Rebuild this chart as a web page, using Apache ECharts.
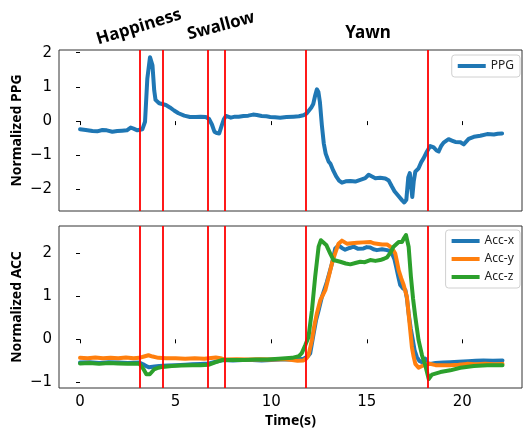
<!DOCTYPE html>
<html>
<head>
<meta charset="utf-8">
<script src="https://cdn.jsdelivr.net/npm/echarts@6/dist/echarts.min.js"></script>
<style>
  html, body { margin: 0; padding: 0; background: #fff; }
  #chart { width: 524px; height: 433px; }
</style>
</head>
<body>
<div id="chart"></div>
<script>
// 数据
var xTicks = [0, 5, 10, 15, 20];
var ppgTicks = [-2, -1, 0, 1, 2];
var accTicks = [-1, 0, 1, 2];
var eventTimes = [3.14, 4.31, 6.68, 7.58, 11.8, 18.18];

var ppgTime = [0.0, 0.3, 0.65, 0.9, 1.17, 1.4, 1.69, 1.95, 2.2, 2.45, 2.65, 2.8, 3.0, 3.26, 3.4, 3.52, 3.66, 3.79, 3.88, 3.95,
  4.14, 4.3, 4.49, 4.7, 4.92, 5.15, 5.45, 5.75, 6.06, 6.3, 6.58, 6.75, 6.9, 7.03, 7.15, 7.28, 7.41, 7.52, 7.63, 7.89,
  8.1, 8.3, 8.55, 8.8, 9.05, 9.25, 9.5, 9.75, 9.95, 10.2, 10.47, 10.8, 11.17, 11.45, 11.69, 11.85, 11.95, 12.1, 12.2, 12.3,
  12.39, 12.47, 12.55, 12.65, 12.75, 12.85, 13.0, 13.1, 13.25, 13.4, 13.55, 13.7, 13.9, 14.14, 14.4, 14.66, 14.92, 15.1, 15.2, 15.45,
  15.7, 15.97, 16.15, 16.3, 16.45, 16.67, 16.85, 16.96, 17.07, 17.17, 17.25, 17.32, 17.38, 17.46, 17.54, 17.71, 17.85, 17.97, 18.15, 18.32,
  18.5, 18.65, 18.76, 18.9, 19.02, 19.28, 19.45, 19.63, 19.9, 20.07, 20.2, 20.33, 20.6, 20.94, 21.3, 21.65, 21.85, 22.08];
var ppgValue = [-0.24, -0.26, -0.29, -0.30, -0.26, -0.27, -0.31, -0.29, -0.28, -0.27, -0.19, -0.22, -0.27, -0.24, -0.02, 1.24, 1.87, 1.63, 0.9, 0.62,
  0.52, 0.50, 0.47, 0.40, 0.31, 0.23, 0.16, 0.12, 0.12, 0.13, 0.12, 0.06, -0.1, -0.31, -0.35, -0.36, -0.13, 0.05, 0.15, 0.10,
  0.13, 0.13, 0.15, 0.16, 0.19, 0.18, 0.15, 0.14, 0.12, 0.11, 0.10, 0.12, 0.13, 0.14, 0.17, 0.22, 0.27, 0.40, 0.50, 0.75,
  0.93, 0.85, 0.55, -0.12, -0.65, -0.95, -1.18, -1.25, -1.45, -1.62, -1.74, -1.80, -1.76, -1.75, -1.77, -1.72, -1.67, -1.57, -1.58, -1.67,
  -1.66, -1.68, -1.74, -1.9, -2.05, -2.2, -2.32, -2.38, -2.3, -1.65, -1.52, -1.9, -2.22, -1.75, -1.48, -1.38, -1.2, -1.09, -0.89, -0.73,
  -0.77, -0.86, -0.89, -0.72, -0.63, -0.53, -0.57, -0.61, -0.62, -0.68, -0.6, -0.52, -0.46, -0.43, -0.38, -0.39, -0.37, -0.36];

var accXTime = [0.0, 0.5, 1.0, 1.5, 2.0, 2.5, 3.1, 3.3, 3.5, 3.61, 3.9, 4.14, 4.6, 5.0, 5.5, 5.88, 6.3, 6.75, 7.1, 7.45,
  8.0, 8.5, 9.0, 9.5, 10.0, 10.5, 11.0, 11.45, 11.69, 11.9, 12.04, 12.22, 12.35, 12.48, 12.65, 12.91, 13.05, 13.18, 13.35, 13.52,
  13.7, 13.87, 14.1, 14.31, 14.55, 14.83, 15.0, 15.18, 15.35, 15.53, 15.8, 16.06, 16.2, 16.32, 16.45, 16.54, 16.65, 16.75, 16.9, 17.02,
  17.1, 17.19, 17.3, 17.41, 17.5, 17.62, 17.75, 17.89, 17.98, 18.06, 18.15, 18.32, 18.6, 19.0, 19.37, 19.8, 20.3, 20.7, 21.1, 21.6, 22.1];
var accX = [-0.54, -0.53, -0.55, -0.53, -0.54, -0.55, -0.54, -0.58, -0.63, -0.65, -0.63, -0.62, -0.61, -0.60, -0.59, -0.58, -0.57, -0.56, -0.52, -0.48,
  -0.49, -0.48, -0.48, -0.49, -0.48, -0.47, -0.47, -0.46, -0.45, -0.40, -0.33, 0.13, 0.45, 0.67, 0.98, 1.33, 1.55, 1.76, 2.11, 2.18,
  2.12, 2.08, 2.12, 2.15, 2.10, 2.11, 2.14, 2.13, 2.09, 2.07, 2.09, 2.07, 2.05, 1.99, 1.85, 1.68, 1.45, 1.26, 1.18, 1.14,
  0.95, 0.6, 0.25, -0.02, -0.25, -0.41, -0.5, -0.53, -0.50, -0.45, -0.55, -0.57, -0.55, -0.54, -0.53, -0.52, -0.51, -0.5, -0.49, -0.5, -0.49];

var accYTime = [0.0, 0.4, 0.8, 1.2, 1.6, 2.0, 2.4, 2.8, 3.1, 3.35, 3.58, 3.8, 4.1, 4.5, 5.0, 5.5, 6.0, 6.5, 7.1, 7.35,
  7.6, 8.2, 8.8, 9.4, 10.0, 10.6, 11.1, 11.38, 11.69, 11.85, 11.95, 12.13, 12.25, 12.39, 12.57, 12.83, 12.95, 13.09, 13.2, 13.35,
  13.52, 13.7, 13.96, 14.2, 14.49, 14.8, 15.18, 15.35, 15.53, 15.8, 16.06, 16.23, 16.38, 16.49, 16.58, 16.67, 16.8, 16.93, 17.1, 17.24,
  17.36, 17.45, 17.54, 17.71, 17.89, 18.1, 18.32, 18.6, 19.0, 19.37, 19.8, 20.24, 20.7, 21.2, 21.7, 22.1];
var accY = [-0.43, -0.44, -0.42, -0.44, -0.43, -0.44, -0.42, -0.44, -0.43, -0.40, -0.37, -0.40, -0.43, -0.44, -0.44, -0.45, -0.44, -0.45, -0.42, -0.44,
  -0.47, -0.46, -0.47, -0.46, -0.47, -0.46, -0.48, -0.50, -0.49, -0.44, -0.37, -0.02, 0.3, 0.6, 0.91, 1.14, 1.35, 1.6, 1.8, 2.0,
  2.22, 2.29, 2.22, 2.23, 2.24, 2.25, 2.26, 2.23, 2.22, 2.2, 2.2, 2.15, 2.07, 1.99, 1.8, 1.6, 1.42, 1.26, 0.98, 0.36,
  -0.18, -0.4, -0.57, -0.66, -0.62, -0.58, -0.57, -0.6, -0.6, -0.6, -0.59, -0.57, -0.58, -0.57, -0.58, -0.57];

var accZTime = [0.0, 0.5, 1.0, 1.5, 2.0, 2.5, 3.1, 3.3, 3.47, 3.65, 3.87, 4.1, 4.31, 4.8, 5.3, 5.88, 6.3, 6.75, 7.1, 7.45,
  8.0, 8.6, 9.2, 9.8, 10.4, 11.1, 11.45, 11.6, 11.78, 11.95, 12.13, 12.3, 12.48, 12.6, 12.69, 12.88, 13.09, 13.26, 13.61, 13.9,
  14.14, 14.4, 14.66, 14.9, 15.18, 15.45, 15.7, 15.9, 16.06, 16.25, 16.4, 16.67, 16.84, 16.95, 17.05, 17.19, 17.31, 17.42, 17.54, 17.71,
  17.89, 18.06, 18.24, 18.41, 18.85, 19.37, 19.9, 20.6, 21.3, 22.1];
var accZ = [-0.56, -0.55, -0.57, -0.55, -0.56, -0.57, -0.56, -0.68, -0.81, -0.81, -0.70, -0.66, -0.64, -0.62, -0.61, -0.60, -0.60, -0.59, -0.53, -0.48,
  -0.48, -0.48, -0.47, -0.47, -0.45, -0.43, -0.39, -0.32, -0.14, 0.05, 0.67, 1.45, 2.15, 2.3, 2.34, 2.19, 1.99, 1.84, 1.80, 1.76,
  1.74, 1.77, 1.80, 1.79, 1.84, 1.82, 1.84, 1.87, 1.9, 2.02, 2.15, 2.26, 2.26, 2.35, 2.42, 2.15, 1.45, 0.95, 0.52, -0.02,
  -0.37, -0.60, -0.92, -0.82, -0.76, -0.72, -0.66, -0.62, -0.6, -0.6];

function zip(xs, ys) {
  return xs.map(function (x, i) { return [x, ys[i]]; });
}
function minus(v) {
  return String(v).replace('-', '\u2212');
}

var chart = echarts.init(document.getElementById('chart'));

var tickFont = { fontFamily: 'DejaVu Sans', fontSize: 15, color: '#000' };
var nameFont = { fontFamily: 'Noto Sans', fontSize: 14, fontWeight: 'bold', color: '#000' };

function xAxisFor(gridIndex, showLabel) {
  return {
    type: 'value', gridIndex: gridIndex, min: -1.1, max: 23.12,
    axisLine: { show: false },
    splitLine: { show: false },
    axisTick: { show: true, inside: false, length: 4, customValues: xTicks, lineStyle: { color: '#000' } },
    axisLabel: Object.assign({ show: showLabel, margin: 7, customValues: xTicks, formatter: minus }, tickFont)
  };
}
function yAxisFor(gridIndex, min, max, ticks, name) {
  return {
    type: 'value', gridIndex: gridIndex, min: min, max: max,
    name: name, nameLocation: 'middle', nameGap: 35, nameMoveOverlap: false, nameTextStyle: nameFont,
    axisLine: { show: false },
    splitLine: { show: false },
    axisTick: { show: true, inside: false, length: 4, customValues: ticks, lineStyle: { color: '#000' } },
    axisLabel: Object.assign({ margin: 7, customValues: ticks, formatter: minus }, tickFont)
  };
}
function redLines(xi, yi) {
  return {
    type: 'line', xAxisIndex: xi, yAxisIndex: yi, data: [], z: 10, silent: true,
    markLine: {
      silent: true, symbol: 'none', animation: false,
      label: { show: false },
      lineStyle: { color: '#ff0000', width: 1.8, type: 'solid' },
      data: eventTimes.map(function (t) { return { xAxis: t }; })
    }
  };
}
function curve(name, xi, yi, data, color) {
  return {
    name: name, type: 'line', xAxisIndex: xi, yAxisIndex: yi, data: data,
    showSymbol: false, symbol: 'none', smooth: false,
    lineStyle: { color: color, width: 4, cap: 'round', join: 'round' },
    itemStyle: { color: color }
  };
}

var legendBase = {
  right: 4, icon: 'rect', itemWidth: 28, itemHeight: 4, itemGap: 6,
  orient: 'vertical', align: 'left',
  borderColor: '#d0d0d0', borderWidth: 1, borderRadius: 3, padding: [5, 6, 5, 6],
  backgroundColor: '#fff',
  textStyle: { fontFamily: 'Noto Sans', fontSize: 12, color: '#222' }
};

var option = {
  animation: false,
  backgroundColor: '#fff',
  grid: [
    { left: 59, top: 50, width: 463, height: 161, show: true, borderColor: '#333', borderWidth: 1,
      backgroundColor: 'transparent', containLabel: false, outerBoundsMode: 'none' },
    { left: 59, top: 226, width: 463, height: 162, show: true, borderColor: '#333', borderWidth: 1,
      backgroundColor: 'transparent', containLabel: false, outerBoundsMode: 'none' }
  ],
  xAxis: [
    xAxisFor(0, false),
    Object.assign(xAxisFor(1, true), { name: 'Time(s)', nameLocation: 'middle', nameGap: 26, nameMoveOverlap: false, nameTextStyle: nameFont })
  ],
  yAxis: [
    yAxisFor(0, -2.63, 2.08, ppgTicks, 'Normalized PPG'),
    yAxisFor(1, -1.13, 2.63, accTicks, 'Normalized ACC')
  ],
  legend: [
    Object.assign({}, legendBase, { top: 55, data: ['PPG'] }),
    Object.assign({}, legendBase, { top: 230, data: ['Acc-x', 'Acc-y', 'Acc-z'] })
  ],
  graphic: [
    { type: 'text', x: 139, y: 27, rotation: 17 * Math.PI / 180,
      style: { text: 'Happiness', fontFamily: 'Noto Sans', fontSize: 17, fontWeight: 'bold', fill: '#000', align: 'center', verticalAlign: 'middle' } },
    { type: 'text', x: 221, y: 26, rotation: 15 * Math.PI / 180,
      style: { text: 'Swallow', fontFamily: 'Noto Sans', fontSize: 17, fontWeight: 'bold', fill: '#000', align: 'center', verticalAlign: 'middle' } },
    { type: 'text', x: 368, y: 33,
      style: { text: 'Yawn', fontFamily: 'Noto Sans', fontSize: 17, fontWeight: 'bold', fill: '#000', align: 'center', verticalAlign: 'middle' } }
  ],
  series: [
    curve('PPG', 0, 0, zip(ppgTime, ppgValue), '#1f77b4'),
    redLines(0, 0),
    curve('Acc-x', 1, 1, zip(accXTime, accX), '#1f77b4'),
    curve('Acc-y', 1, 1, zip(accYTime, accY), '#ff7f0e'),
    curve('Acc-z', 1, 1, zip(accZTime, accZ), '#2ca02c'),
    redLines(1, 1)
  ]
};

chart.setOption(option);
</script>
</body>
</html>
